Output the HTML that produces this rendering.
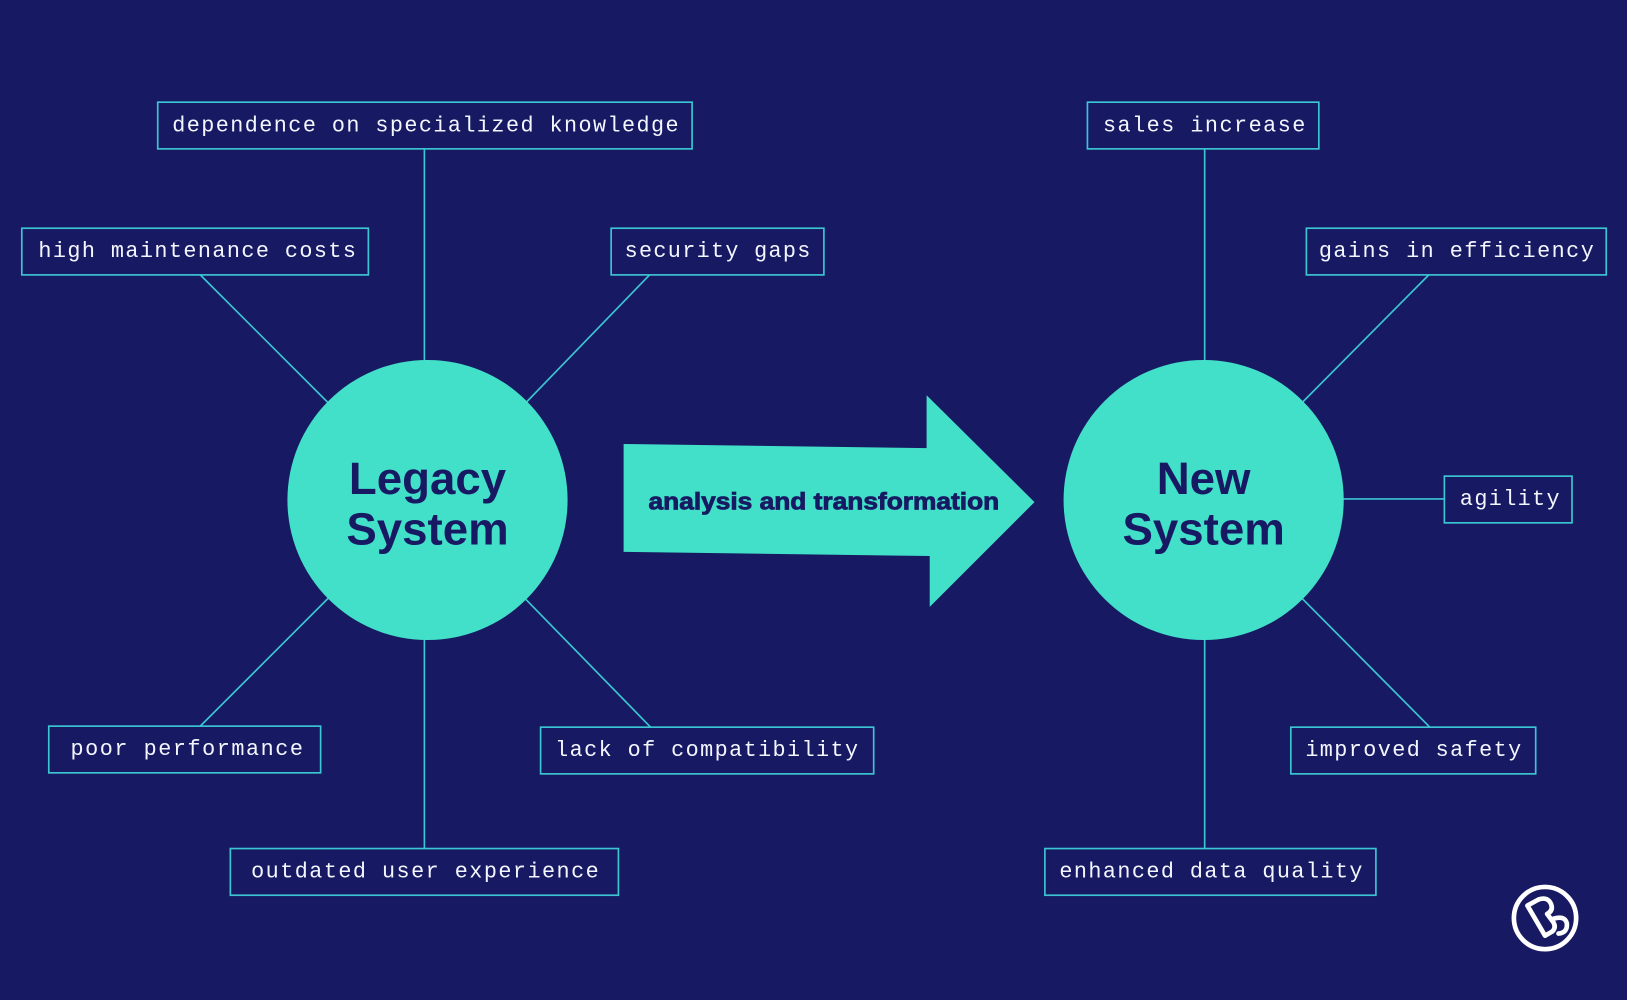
<!DOCTYPE html>
<html><head><meta charset="utf-8"><style>
html,body{margin:0;padding:0;background:#171a63;}
svg{display:block;}
.b{fill:none;stroke:#3cc6d4;stroke-width:1.6;}
.l{stroke:#3cc6d4;stroke-width:1.6;}
.t{font-family:"Liberation Mono",monospace;font-size:21px;fill:#f4f6ff;}
.h{font-family:"Liberation Sans",sans-serif;font-weight:bold;fill:#171a63;text-anchor:middle;}
</style></head><body>
<svg width="1627" height="1000" viewBox="0 0 1568 964" preserveAspectRatio="none" xmlns="http://www.w3.org/2000/svg">
<rect width="1568" height="964" fill="#171a63"/>
<g>
<line class="l" x1="409" y1="143" x2="409" y2="350"/>
<line class="l" x1="193" y1="265" x2="316" y2="388"/>
<line class="l" x1="626" y1="265" x2="507" y2="388"/>
<line class="l" x1="193" y1="700" x2="317" y2="576"/>
<line class="l" x1="627" y1="701" x2="506" y2="577"/>
<line class="l" x1="409" y1="614" x2="409" y2="818"/>
<line class="l" x1="1161" y1="143" x2="1161" y2="350"/>
<line class="l" x1="1377" y1="265" x2="1255" y2="388"/>
<line class="l" x1="1292" y1="481" x2="1392" y2="481"/>
<line class="l" x1="1255" y1="577" x2="1378" y2="701"/>
<line class="l" x1="1161" y1="614" x2="1161" y2="818"/>
</g>
<circle cx="412" cy="482" r="135" fill="#42e0c8"/>
<circle cx="1160" cy="482" r="135" fill="#42e0c8"/>
<text class="h" x="412" y="476" font-size="44">Legacy</text>
<text class="h" x="412" y="525" font-size="44">System</text>
<text class="h" x="1160" y="476" font-size="44">New</text>
<text class="h" x="1160" y="525" font-size="44">System</text>
<polygon points="601,428 893,432 893,381 997,484 896,585 896,536 601,532" fill="#42e0c8"/>
<text class="h" x="794" y="491" font-size="23" stroke="#171a63" stroke-width="0.8" textLength="338" lengthAdjust="spacingAndGlyphs">analysis and transformation</text>

<rect class="b" x="152" y="98.5" width="515" height="45"/>
<text class="t" x="166" y="127" textLength="488" lengthAdjust="spacing">dependence on specialized knowledge</text>
<rect class="b" x="21" y="220" width="334" height="45"/>
<text class="t" x="37" y="248" textLength="306" lengthAdjust="spacing">high maintenance costs</text>
<rect class="b" x="589" y="220" width="205" height="45"/>
<text class="t" x="602" y="248" textLength="179" lengthAdjust="spacing">security gaps</text>
<rect class="b" x="47" y="700" width="262" height="45"/>
<text class="t" x="68" y="728" textLength="224" lengthAdjust="spacing">poor performance</text>
<rect class="b" x="521" y="701" width="321" height="45"/>
<text class="t" x="535" y="729" textLength="292" lengthAdjust="spacing">lack of compatibility</text>
<rect class="b" x="222" y="818" width="374" height="45"/>
<text class="t" x="242" y="846" textLength="335" lengthAdjust="spacing">outdated user experience</text>

<rect class="b" x="1048" y="98.5" width="223" height="45"/>
<text class="t" x="1063" y="127" textLength="195" lengthAdjust="spacing">sales increase</text>
<rect class="b" x="1259" y="220" width="289" height="45"/>
<text class="t" x="1271" y="248" textLength="265" lengthAdjust="spacing">gains in efficiency</text>
<rect class="b" x="1392" y="459" width="123" height="45"/>
<text class="t" x="1407" y="487" textLength="96" lengthAdjust="spacing">agility</text>
<rect class="b" x="1244" y="701" width="236" height="45"/>
<text class="t" x="1258" y="729" textLength="208" lengthAdjust="spacing">improved safety</text>
<rect class="b" x="1007" y="818" width="319" height="45"/>
<text class="t" x="1021" y="846" textLength="292" lengthAdjust="spacing">enhanced data quality</text>

<g fill="none" stroke="#fff" stroke-width="4.5" stroke-linejoin="round" stroke-linecap="round">
<circle cx="1489" cy="885" r="30"/>
<path d="M1472,873 L1483,867 Q1492,864 1495,872 Q1497,878 1491,881 L1497,889 Q1500,894 1496,898 L1489,902 Z"/>
<path d="M1496,886 Q1508,882 1510,890 Q1511,899 1502,900"/>
</g>
</svg>
</body></html>
